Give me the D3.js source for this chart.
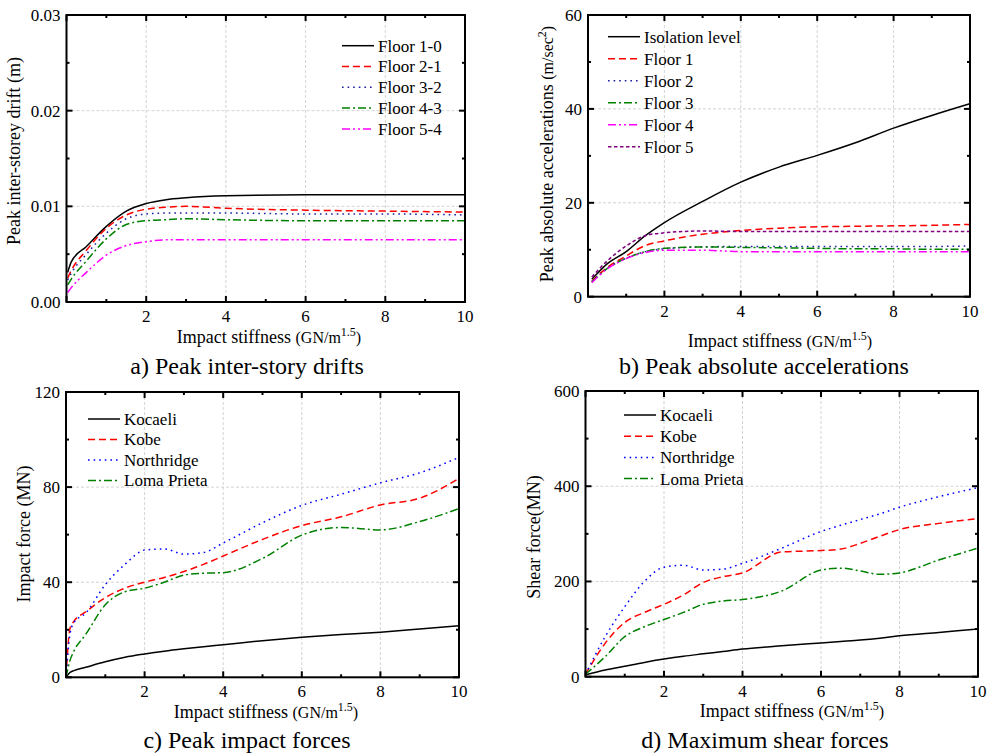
<!DOCTYPE html>
<html>
<head>
<meta charset="utf-8">
<script src="https://cdnjs.cloudflare.com/ajax/libs/d3/7.8.5/d3.min.js"></script>
<style>
body { margin: 0; background: #fff; }
</style>
</head>
<body>
<div id="chart"></div>
<script>
// ---- data ----

// a) peak inter-story drifts (m)
var driftX  = [0.03, 0.12, 0.5, 1, 1.5, 2, 2.5, 3, 4, 6, 8, 10];
var floor10 = [0.0031, 0.0042, 0.0058, 0.0079, 0.0095, 0.0103, 0.0107, 0.0109, 0.0111, 0.0112, 0.0112, 0.0112];
var floor21 = [0.0025, 0.0033, 0.0054, 0.0077, 0.0091, 0.0097, 0.0099, 0.0100, 0.0098, 0.0096, 0.0095, 0.0094];
var floor32 = [0.0023, 0.0030, 0.0050, 0.0072, 0.0087, 0.0092, 0.0093, 0.0093, 0.0093, 0.0092, 0.0092, 0.0091];
var floor43 = [0.0018, 0.0024, 0.0043, 0.0066, 0.0081, 0.0085, 0.0086, 0.0087, 0.0086, 0.0085, 0.0085, 0.0085];
var floor54 = [0.0010, 0.0015, 0.0031, 0.0049, 0.0059, 0.0063, 0.0065, 0.0065, 0.0065, 0.0065, 0.0065, 0.0065];
var driftNames = ["Floor 1-0", "Floor 2-1", "Floor 3-2", "Floor 4-3", "Floor 5-4"];

// b) peak absolute accelerations (m/sec2)
var accX      = [0.1, 0.5, 1, 1.5, 2, 3, 4, 5, 6, 7, 8, 9, 10];
var isolation = [3.7, 7.0, 9.6, 13.0, 15.8, 20.3, 24.4, 27.6, 30.1, 32.8, 35.9, 38.6, 41.1];
var accFloor1 = [3.3, 6.2, 8.7, 10.9, 11.9, 13.3, 14.1, 14.6, 14.9, 15.0, 15.1, 15.2, 15.4];
var accFloor2 = [3.2, 6.0, 8.2, 9.6, 10.2, 10.6, 10.7, 10.7, 10.7, 10.7, 10.7, 10.7, 10.8];
var accFloor3 = [3.1, 6.0, 8.2, 9.6, 10.3, 10.6, 10.5, 10.4, 10.3, 10.2, 10.2, 10.1, 10.1];
var accFloor4 = [3.0, 5.9, 8.1, 9.4, 9.9, 9.9, 9.6, 9.6, 9.6, 9.6, 9.6, 9.6, 9.6];
var accFloor5 = [4.2, 7.6, 10.8, 13.0, 13.6, 14.0, 13.9, 13.9, 13.9, 13.9, 13.9, 13.9, 13.9];
var accNames = ["Isolation level", "Floor 1", "Floor 2", "Floor 3", "Floor 4", "Floor 5"];

// c) peak impact forces (MN)
var impX          = [0, 0.1, 0.2, 0.5, 1, 1.5, 2, 2.5, 3, 3.5, 4, 5, 6, 7, 8, 9, 10];
var kocaeliImpact = [0, 2.0, 2.8, 4.2, 6.5, 8.4, 9.8, 11.0, 12.0, 12.9, 13.7, 15.4, 16.8, 18.0, 19.0, 20.3, 21.7];
var kobeImpact    = [0, 20.5, 23.5, 27.5, 33.5, 37.5, 40.0, 42.0, 44.5, 47.5, 51.0, 58.0, 63.8, 67.5, 72.5, 75.3, 83.7];
var northImpact   = [0, 18, 23, 27, 39.0, 47.5, 53.5, 54.0, 51.8, 52.5, 56.5, 65.0, 72.3, 77.0, 81.8, 86.0, 92.5];
var lomaImpact    = [0, 7, 11, 18, 30.5, 36, 37.5, 40, 43, 43.8, 44, 50, 59.8, 63, 62, 65.5, 71];

// d) maximum shear forces (MN)
var shX           = [0, 0.5, 1, 1.5, 2, 2.5, 3, 3.5, 4, 5, 6, 6.5, 7, 7.5, 8, 9, 10];
var kocaeliShear  = [4, 14, 22, 30, 37, 43, 48, 53, 58, 65, 71, 74, 77, 81, 86, 93, 100];
var kobeShear     = [5, 70, 114, 135, 152, 172, 198, 210, 218, 262, 265, 268, 280, 295, 309, 322, 332];
var northShear    = [5, 84, 147, 200, 230, 234, 224, 226, 238, 270, 305, 318, 330, 342, 356, 378, 397];
var lomaShear     = [5, 42, 84, 105, 120, 135, 152, 159, 162, 180, 224, 228, 222, 215, 218, 245, 270];
var quakeNames = ["Kocaeli", "Kobe", "Northridge", "Loma Prieta"];

var xTicks = [2, 4, 6, 8, 10];

// ---- line styles ----
var solid   = { color: "#000000", dash: null };
var dashed  = { color: "#ff0000", dash: "7,4" };
var dotNavy = { color: "#1c1ca8", dash: "1.6,4" };
var dotBlue = { color: "#0000ff", dash: "1.6,4" };
var dashDot = { color: "#008000", dash: "8,3,2,3" };
var dashDotDot = { color: "#ff00ff", dash: "8,3,2,3,2,3" };
var shortDash = { color: "#800080", dash: "3.5,2.5" };

var FONT = "'Liberation Serif', 'Times New Roman', serif";

var svg = d3.select("#chart")
  .append("svg")
  .attr("width", 993)
  .attr("height", 756)
  .style("font-family", FONT);

var clipCount = 0;

function drawPanel(p) {
  var x = d3.scaleLinear().domain([0, 10]).range([p.left, p.right]);
  var y = d3.scaleLinear().domain(p.yDomain).range([p.bottom, p.top]);
  var g = svg.append("g");

  // grid
  g.selectAll(".gx").data([2, 4, 6, 8]).enter().append("line")
    .attr("x1", d => x(d)).attr("x2", d => x(d))
    .attr("y1", p.top).attr("y2", p.bottom)
    .attr("stroke", "#c8c8c8").attr("stroke-width", 0.8).attr("stroke-dasharray", "3,2");
  g.selectAll(".gy").data(p.yTicks.slice(1, -1)).enter().append("line")
    .attr("y1", d => y(d)).attr("y2", d => y(d))
    .attr("x1", p.left).attr("x2", p.right)
    .attr("stroke", "#c8c8c8").attr("stroke-width", 0.8).attr("stroke-dasharray", "3,2");

  // lines
  clipCount++;
  var cid = "clip" + clipCount;
  svg.append("clipPath").attr("id", cid).append("rect")
    .attr("x", p.left).attr("y", p.top)
    .attr("width", p.right - p.left).attr("height", p.bottom - p.top);

  var line = d3.line()
    .x(d => x(d[0]))
    .y(d => y(d[1]))
    .curve(d3.curveMonotoneX);

  p.series.forEach(function(s) {
    var pts = p.xs.map((v, i) => [v, s.values[i]]);
    g.append("path")
      .attr("d", line(pts))
      .attr("clip-path", "url(#" + cid + ")")
      .attr("fill", "none")
      .attr("stroke", s.style.color)
      .attr("stroke-width", 1.5)
      .attr("stroke-dasharray", s.style.dash);
  });

  // ticks on all four sides, pointing inward
  var yMinor = [];
  for (var i = 0; i < p.yTicks.length - 1; i++) yMinor.push((p.yTicks[i] + p.yTicks[i + 1]) / 2);
  var xMajor = [0].concat(xTicks), xMinor = [1, 3, 5, 7, 9];

  function tickX(vals, len) {
    vals.forEach(function(v) {
      g.append("line").attr("x1", x(v)).attr("x2", x(v)).attr("y1", p.bottom).attr("y2", p.bottom - len)
        .attr("stroke", "#000").attr("stroke-width", 2);
      g.append("line").attr("x1", x(v)).attr("x2", x(v)).attr("y1", p.top).attr("y2", p.top + len)
        .attr("stroke", "#000").attr("stroke-width", 2);
    });
  }
  function tickY(vals, len) {
    vals.forEach(function(v) {
      g.append("line").attr("y1", y(v)).attr("y2", y(v)).attr("x1", p.left).attr("x2", p.left + len)
        .attr("stroke", "#000").attr("stroke-width", 2);
      g.append("line").attr("y1", y(v)).attr("y2", y(v)).attr("x1", p.right).attr("x2", p.right - len)
        .attr("stroke", "#000").attr("stroke-width", 2);
    });
  }
  tickX(xMajor, 6); tickX(xMinor, 3);
  tickY(p.yTicks, 6); tickY(yMinor, 3);

  // frame
  g.append("rect")
    .attr("x", p.left).attr("y", p.top)
    .attr("width", p.right - p.left).attr("height", p.bottom - p.top)
    .attr("fill", "none").attr("stroke", "#000").attr("stroke-width", 2);

  // tick labels
  g.selectAll(".xl").data(xTicks).enter().append("text")
    .attr("x", d => x(d)).attr("y", p.bottom + 20)
    .attr("text-anchor", "middle").attr("font-size", 17)
    .style("font-family", FONT)
    .text(d => d);
  g.selectAll(".yl").data(p.yTicks).enter().append("text")
    .attr("x", p.left - 6).attr("y", d => y(d)).attr("dy", "0.35em")
    .attr("text-anchor", "end").attr("font-size", 17)
    .style("font-family", FONT)
    .text(p.yFormat);

  // x axis title
  var xt = g.append("text")
    .attr("x", p.xTitleX).attr("y", p.xTitleY)
    .attr("text-anchor", "middle").attr("font-size", 18)
    .style("font-family", FONT);
  xt.append("tspan").text("Impact stiffness ");
  xt.append("tspan").attr("font-size", 16).text("(GN/m");
  xt.append("tspan").attr("font-size", 12).attr("dy", -7).text("1.5");
  xt.append("tspan").attr("font-size", 16).attr("dy", 7).text(")");

  // y axis title
  var yt = g.append("text")
    .attr("transform", "translate(" + p.yTitleX + "," + p.yTitleY + ") rotate(-90)")
    .attr("text-anchor", "middle").attr("font-size", 18)
    .style("font-family", FONT);
  yt.append("tspan").text(p.yTitle);
  if (p.yUnit) {
    yt.append("tspan").attr("font-size", 16).text(p.yUnit);
    yt.append("tspan").attr("font-size", 12).attr("dy", -7).text("2");
    yt.append("tspan").attr("font-size", 16).attr("dy", 7).text(")");
  }

  // legend
  p.series.forEach(function(s, i) {
    var ly = p.legY + i * p.legStep;
    g.append("line")
      .attr("x1", p.legX).attr("x2", p.legX + 32)
      .attr("y1", ly).attr("y2", ly)
      .attr("stroke", s.style.color).attr("stroke-width", 1.5)
      .attr("stroke-dasharray", s.style.dash);
    g.append("text")
      .attr("x", p.legX + 36).attr("y", ly).attr("dy", "0.35em")
      .attr("font-size", 17)
      .style("font-family", FONT)
      .text(s.name);
  });

  // caption
  svg.append("text")
    .attr("x", p.capX).attr("y", p.capY)
    .attr("text-anchor", "middle").attr("font-size", 24)
    .style("font-family", FONT)
    .text(p.caption);
}

drawPanel({
  left: 66.5, right: 465, top: 15, bottom: 302,
  yDomain: [0, 0.03], yTicks: [0, 0.01, 0.02, 0.03], yFormat: d3.format(".2f"),
  xs: driftX,
  series: [
    { name: driftNames[0], values: floor10, style: solid },
    { name: driftNames[1], values: floor21, style: dashed },
    { name: driftNames[2], values: floor32, style: dotNavy },
    { name: driftNames[3], values: floor43, style: dashDot },
    { name: driftNames[4], values: floor54, style: dashDotDot }
  ],
  legX: 342, legY: 45.7, legStep: 20.8,
  xTitleX: 269, xTitleY: 343,
  yTitle: "Peak inter-storey drift (m)", yTitleX: 20, yTitleY: 151,
  caption: "a) Peak inter-story drifts", capX: 247, capY: 374
});

drawPanel({
  left: 588, right: 970, top: 15, bottom: 296.7,
  yDomain: [0, 60], yTicks: [0, 20, 40, 60], yFormat: d3.format("d"),
  xs: accX,
  series: [
    { name: accNames[0], values: isolation, style: solid },
    { name: accNames[1], values: accFloor1, style: dashed },
    { name: accNames[2], values: accFloor2, style: dotNavy },
    { name: accNames[3], values: accFloor3, style: dashDot },
    { name: accNames[4], values: accFloor4, style: dashDotDot },
    { name: accNames[5], values: accFloor5, style: shortDash }
  ],
  legX: 608, legY: 36.7, legStep: 22,
  xTitleX: 780, xTitleY: 347,
  yTitle: "Peak absolute accelerations ", yUnit: "(m/sec", yTitleX: 553, yTitleY: 154,
  caption: "b) Peak absolute accelerations", capX: 764, capY: 374
});

drawPanel({
  left: 66, right: 459, top: 392, bottom: 677.3,
  yDomain: [0, 120], yTicks: [0, 40, 80, 120], yFormat: d3.format("d"),
  xs: impX,
  series: [
    { name: quakeNames[0], values: kocaeliImpact, style: solid },
    { name: quakeNames[1], values: kobeImpact, style: dashed },
    { name: quakeNames[2], values: northImpact, style: dotBlue },
    { name: quakeNames[3], values: lomaImpact, style: dashDot }
  ],
  legX: 88, legY: 419, legStep: 20.5,
  xTitleX: 266, xTitleY: 718,
  yTitle: "Impact force (MN)", yTitleX: 30, yTitleY: 534,
  caption: "c) Peak impact forces", capX: 247, capY: 748
});

drawPanel({
  left: 585.5, right: 978, top: 391, bottom: 676.7,
  yDomain: [0, 600], yTicks: [0, 200, 400, 600], yFormat: d3.format("d"),
  xs: shX,
  series: [
    { name: quakeNames[0], values: kocaeliShear, style: solid },
    { name: quakeNames[1], values: kobeShear, style: dashed },
    { name: quakeNames[2], values: northShear, style: dotBlue },
    { name: quakeNames[3], values: lomaShear, style: dashDot }
  ],
  legX: 624, legY: 415, legStep: 21.2,
  xTitleX: 792, xTitleY: 717,
  yTitle: "Shear force(MN)", yTitleX: 540, yTitleY: 537,
  caption: "d) Maximum shear forces", capX: 765, capY: 748
});
</script>
</body>
</html>
